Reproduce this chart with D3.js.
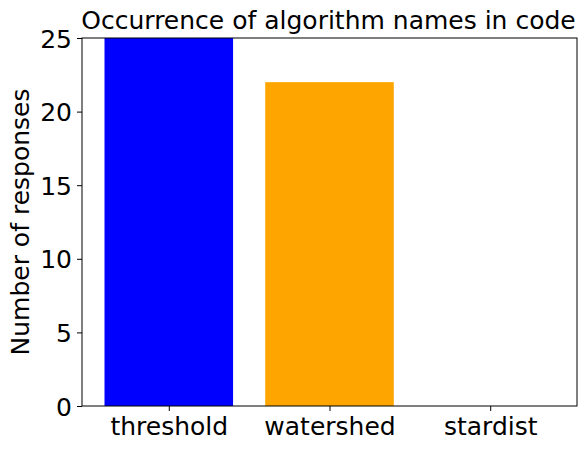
<!DOCTYPE html>
<html>
<head>
<meta charset="utf-8">
<script src="https://cdn.jsdelivr.net/npm/d3@7"></script>
<style>
  body { margin: 0; background: #fff; }
  svg { font-family: "DejaVu Sans", sans-serif; }
</style>
</head>
<body>
<div id="chart"></div>
<script>
// chart data
const categories = ['threshold', 'watershed', 'stardist'];
const counts = [25, 22, 0];
const barColors = ['#0000ff', '#ffa500', '#008000'];
const yTicks = [0, 5, 10, 15, 20, 25];

const W = 587, H = 450;
const margin = { top: 38, right: 10, bottom: 44, left: 82 };
const width = W - margin.left - margin.right;
const height = H - margin.top - margin.bottom;

const svg = d3.select('#chart')
    .append('svg')
    .attr('width', W)
    .attr('height', H);

const g = svg.append('g')
    .attr('transform', `translate(${margin.left},${margin.top})`);

// matplotlib-like x range: bars of width 0.8 plus 5% margins
const xScale = d3.scaleLinear()
    .domain([-0.54, 2.54])
    .range([0, width]);

const yScale = d3.scaleLinear()
    .domain([0, 25])
    .range([height, 0]);

const barW = xScale(0.8) - xScale(0);

g.selectAll('.bar')
    .data(categories)
    .enter()
    .append('rect')
    .attr('class', 'bar')
    .attr('x', (d, i) => xScale(i) - barW / 2)
    .attr('y', (d, i) => yScale(counts[i]))
    .attr('width', barW)
    .attr('height', (d, i) => height - yScale(counts[i]))
    .style('fill', (d, i) => barColors[i]);

// axes
const xAxis = d3.axisBottom(xScale)
    .tickValues(d3.range(categories.length))
    .tickFormat(i => categories[i])
    .tickSizeOuter(0)
    .tickSize(5)
    .tickPadding(6);

const yAxis = d3.axisLeft(yScale)
    .tickValues(yTicks)
    .tickSizeOuter(0)
    .tickSize(5)
    .tickPadding(5);

g.append('g')
    .attr('transform', `translate(0,${height})`)
    .call(xAxis)
    .call(a => a.select('.domain').remove())
    .selectAll('text')
    .style('font-size', '25px')
    .style('font-family', '"DejaVu Sans", sans-serif')
    .attr('fill', '#000');

g.append('g')
    .call(yAxis)
    .call(a => a.select('.domain').remove())
    .selectAll('text')
    .style('font-size', '25px')
    .style('font-family', '"DejaVu Sans", sans-serif')
    .attr('dy', '0.36em')
    .attr('fill', '#000');

// frame
g.append('rect')
    .attr('width', width)
    .attr('height', height)
    .attr('fill', 'none')
    .attr('stroke', '#000')
    .attr('stroke-width', 1);

g.selectAll('.tick line').attr('stroke', '#000');

// title
svg.append('text')
    .attr('x', margin.left + width / 2 - 1)
    .attr('y', 29)
    .attr('text-anchor', 'middle')
    .style('font-size', '25px')
    .text('Occurrence of algorithm names in code');

// y label
svg.append('text')
    .attr('transform', `translate(29,${margin.top + height / 2}) rotate(-90)`)
    .attr('text-anchor', 'middle')
    .style('font-size', '25px')
    .text('Number of responses');
</script>
</body>
</html>
